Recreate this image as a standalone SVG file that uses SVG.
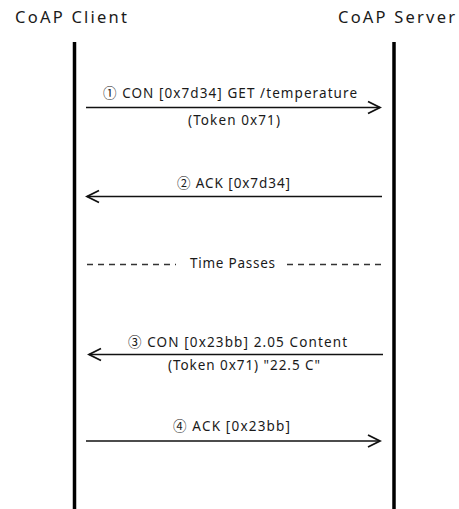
<svg xmlns="http://www.w3.org/2000/svg" width="459" height="509" viewBox="0 0 459 509">
<style>
.t{font-family:"Noto Sans","Noto Sans CJK KR",sans-serif;fill:#1a1a1a;text-anchor:middle}
.h{font-size:16.5px}
.m{font-size:13.5px}
.life{stroke:#000;stroke-width:3.5;fill:none}
.msg{stroke:#111;stroke-width:1.6;fill:none}
.dash{stroke:#333;stroke-width:1.3;stroke-dasharray:6 5;fill:none}
</style>
<defs>
<marker id="ah" markerUnits="userSpaceOnUse" markerWidth="16" markerHeight="16" viewBox="-14 -8 16 16" refX="0" refY="0" orient="auto">
<path d="M-12,-6 L0,0 L-12,6" fill="none" stroke="#111" stroke-width="1.8"/>
</marker>
</defs>
<rect width="459" height="509" fill="#fff"/>
<g id="client">
<text class="t h" x="71" y="23" textLength="112" lengthAdjust="spacing">CoAP Client</text>
<line class="life" x1="74.5" y1="42" x2="74.5" y2="509"/>
</g>
<g id="server">
<text class="t h" x="396.5" y="23" textLength="117" lengthAdjust="spacing">CoAP Server</text>
<line class="life" x1="394" y1="42" x2="394" y2="509"/>
</g>
<g id="connectors">
<line class="msg" x1="86" y1="107.5" x2="380" y2="107.5" marker-end="url(#ah)"/>
<text class="t m" x="230" y="98" textLength="254" lengthAdjust="spacing">① CON [0x7d34] GET /temperature</text>
<text class="t m" x="234" y="125" textLength="92" lengthAdjust="spacing">(Token 0x71)</text>
<line class="msg" x1="382" y1="196.5" x2="87" y2="196.5" marker-end="url(#ah)"/>
<text class="t m" x="233.5" y="188" textLength="113" lengthAdjust="spacing">② ACK [0x7d34]</text>
<line class="dash" x1="87" y1="264.5" x2="176" y2="264.5"/>
<text class="t m" x="232.5" y="268" textLength="85" lengthAdjust="spacing">Time Passes</text>
<line class="dash" x1="287" y1="264.5" x2="384" y2="264.5"/>
<line class="msg" x1="383" y1="354.5" x2="89" y2="354.5" marker-end="url(#ah)"/>
<text class="t m" x="237.5" y="347" textLength="219" lengthAdjust="spacing">③ CON [0x23bb] 2.05 Content</text>
<text class="t m" x="244" y="370" textLength="152" lengthAdjust="spacing">(Token 0x71) "22.5 C"</text>
<line class="msg" x1="86" y1="441" x2="380" y2="441" marker-end="url(#ah)"/>
<text class="t m" x="231.5" y="431" textLength="117" lengthAdjust="spacing">④ ACK [0x23bb]</text>
</g>
</svg>
